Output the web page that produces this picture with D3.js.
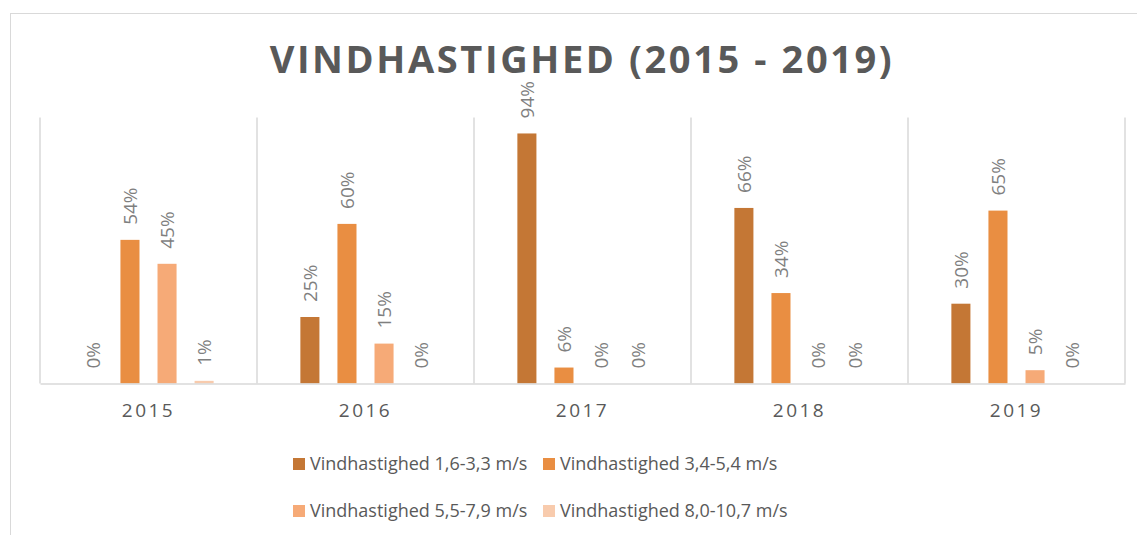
<!DOCTYPE html>
<html>
<head>
<meta charset="utf-8">
<title>Vindhastighed</title>
<script src="https://d3js.org/d3.v7.min.js"></script>
<style>
  body { margin: 0; background: #fff; }
  text { font-family: "Open Sans", sans-serif; }
</style>
</head>
<body>
<div id="chart"></div>
<script>
var years = ["2015", "2016", "2017", "2018", "2019"];
var series = ["Vindhastighed 1,6-3,3 m/s", "Vindhastighed 3,4-5,4 m/s",
              "Vindhastighed 5,5-7,9 m/s", "Vindhastighed 8,0-10,7 m/s"];
var speed1 = [0, 25, 94, 66, 30];
var speed2 = [54, 60, 6, 34, 65];
var speed3 = [45, 15, 0, 0, 5];
var speed4 = [1, 0, 0, 0, 0];
var colors = ["#C47735", "#E98E42", "#F6AA77", "#F8CBAD"];

var values = [speed1, speed2, speed3, speed4];
var data = years.map(function(y, i) {
  return { year: y, vals: series.map(function(s, j) { return { key: s, idx: j, value: values[j][i] }; }) };
});

var width = 1137, height = 535;
var svg = d3.select("#chart").append("svg")
  .attr("width", width).attr("height", height);

// chart frame
svg.append("rect")
  .attr("x", 10.5).attr("y", 13.5)
  .attr("width", 1160).attr("height", 600)
  .attr("fill", "#fff").attr("stroke", "#D9D9D9").attr("stroke-width", 1);

var plotLeft = 40, plotRight = 1125, plotTop = 117.5, plotBottom = 383.5;

var x0 = d3.scaleBand().domain(years).range([plotLeft, plotRight]).padding(0);
var x1 = d3.scaleBand().domain(d3.range(4)).range([0, x0.bandwidth()])
  .paddingInner(0.486).paddingOuter(1.17);
var y = d3.scaleLinear().domain([0, 100]).range([plotBottom, plotTop]);

// vertical separators
svg.append("g").selectAll("line")
  .data(years.concat(["end"]))
  .join("line")
  .attr("x1", function(d) { return d === "end" ? plotRight : x0(d); })
  .attr("x2", function(d) { return d === "end" ? plotRight : x0(d); })
  .attr("y1", plotTop).attr("y2", plotBottom)
  .attr("stroke", "#D9D9D9").attr("stroke-width", 1.5);

var groups = svg.append("g").selectAll("g")
  .data(data).join("g")
  .attr("transform", function(d) { return "translate(" + x0(d.year) + ",0)"; });

groups.selectAll("rect")
  .data(function(d) { return d.vals; })
  .join("rect")
  .attr("x", function(d) { return x1(d.idx); })
  .attr("y", function(d) { return y(d.value); })
  .attr("width", x1.bandwidth())
  .attr("height", function(d) { return plotBottom - y(d.value); })
  .attr("fill", function(d) { return colors[d.idx]; });

groups.selectAll("text")
  .data(function(d) { return d.vals; })
  .join("text")
  .attr("transform", function(d) {
    return "translate(" + (x1(d.idx) + x1.bandwidth() / 2) + "," + (y(d.value) - 15) + ") rotate(-90)";
  })
  .attr("dy", "0.35em")
  .attr("fill", "#7F7F7F")
  .style("font-size", "19px")
  .text(function(d) { return d.value + "%"; });

// baseline + x axis
var xAxis = svg.append("g")
  .attr("transform", "translate(0," + plotBottom + ")")
  .call(d3.axisBottom(x0).tickSize(0).tickPadding(20));
xAxis.select(".domain").attr("stroke", "#D9D9D9").attr("stroke-width", 1.5);
xAxis.selectAll("text")
  .attr("fill", "#595959")
  .style("font-family", "'Open Sans', sans-serif")
  .style("font-size", "19px")
  .style("letter-spacing", "2.5px");

// title
svg.append("text")
  .attr("x", 582).attr("y", 73)
  .attr("text-anchor", "middle")
  .attr("fill", "#595959")
  .style("font-size", "38px")
  .style("font-weight", "bold")
  .style("letter-spacing", "2.6px")
  .text("VINDHASTIGHED (2015 - 2019)");

// legend
var legendX = [293, 543], legendY = [464, 511];
var legend = svg.append("g").selectAll("g")
  .data(series).join("g")
  .attr("transform", function(d, i) {
    return "translate(" + legendX[i % 2] + "," + legendY[Math.floor(i / 2)] + ")";
  });
legend.append("rect")
  .attr("x", 0).attr("y", -6).attr("width", 12).attr("height", 12)
  .attr("fill", function(d, i) { return colors[i]; });
legend.append("text")
  .attr("x", 17).attr("dy", "0.35em")
  .attr("fill", "#595959")
  .style("font-size", "18px")
  .text(function(d) { return d; });
</script>
</body>
</html>
